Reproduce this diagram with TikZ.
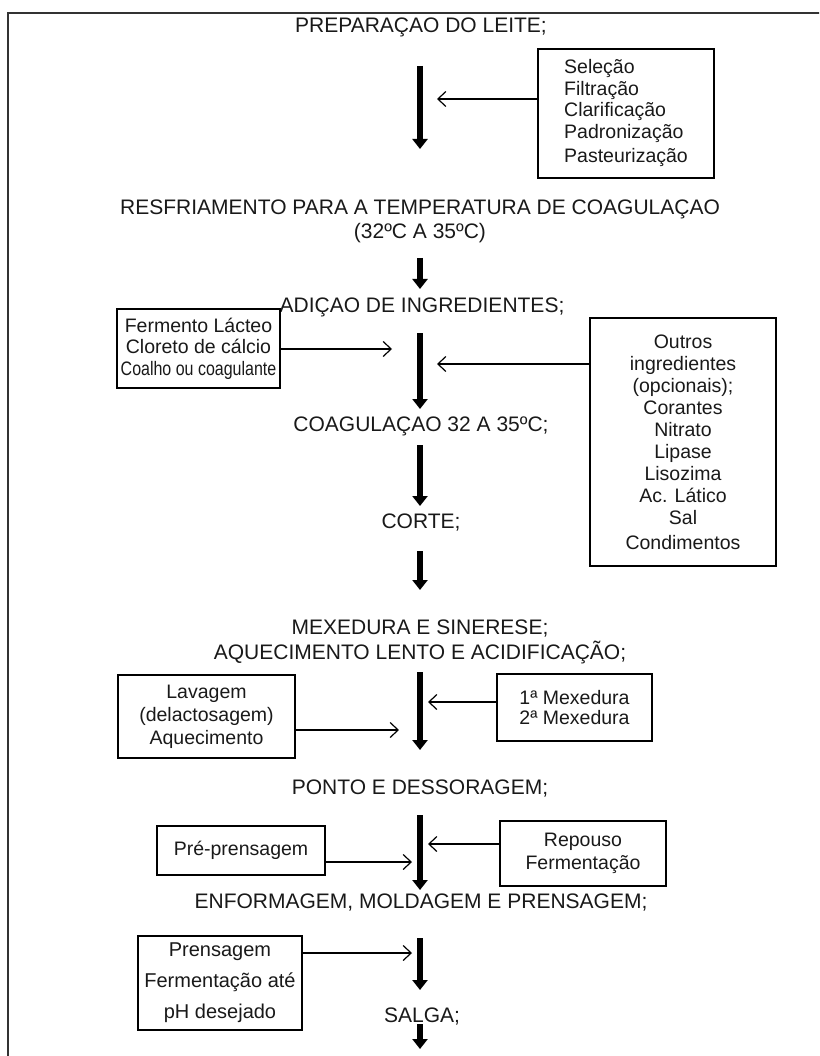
\documentclass[tikz,border=0pt]{standalone}
\usepackage{fontspec}
\setmainfont{Liberation Sans}
\usetikzlibrary{arrows.meta}
\begin{document}
\begin{tikzpicture}[x=1pt,y=-1pt,
  head/.style={font=\fontsize{21}{24}\selectfont, inner sep=0pt, align=center, text=black!90},
  box/.style={draw, line width=1.3pt, font=\fontsize{19.5}{21.5}\selectfont, align=center, inner sep=0pt, text=black!90},
  flow/.style={line width=5.5pt, -{Triangle[width=15pt,length=10pt]}},
  feed/.style={line width=1.2pt, -{Straight Barb[length=8pt,width=15pt]}}]
\useasboundingbox (0,0) rectangle (819,1056);
\begin{scope}
\clip (0,0) rectangle (819,1056);
\draw[line width=2.2pt, color=black!80] (8,13) rectangle (840,1080);
\end{scope}

% headings
\node[head] (t1) at (421,27) {PREPARAÇAO DO LEITE;};
\node[head] (t2a) at (420,209) {RESFRIAMENTO PARA A TEMPERATURA DE COAGULAÇAO};
\node[head] (t2b) at (420,233) {(32ºC A 35ºC)};
\node[head] (t3) at (422,307) {ADIÇAO DE INGREDIENTES;};
\node[head] (t4) at (421,426) {COAGULAÇAO 32 A 35ºC;};
\node[head] (t5) at (421,523) {CORTE;};
\node[head] (t6a) at (420,629) {MEXEDURA E SINERESE;};
\node[head] (t6b) at (420,652) {AQUECIMENTO LENTO E ACIDIFICAÇÃO;};
\node[head] (t7) at (420,789) {PONTO E DESSORAGEM;};
\node[head] (t8) at (421,903) {ENFORMAGEM, MOLDAGEM E PRENSAGEM;};
\node[head] (t9) at (422,1016) {SALGA;};

% side boxes
\node[box, align=left, minimum width=176pt, minimum height=129pt] (b1) at (626,113.5)
  {Seleção\\Filtração\\Clarificação\\Padronização\\[3pt]Pasteurização};
\node[box, minimum width=163pt, minimum height=79pt] (b2) at (198.5,348.5)
  {Fermento Lácteo\\Cloreto de cálcio\\\scalebox{0.82}[1]{Coalho ou coagulante}};
\node[box, font=\fontsize{19.5}{22}\selectfont, minimum width=186pt, minimum height=248pt] (b3) at (683,442)
  {Outros\\ingredientes\\(opcionais);\\Corantes\\Nitrato\\Lipase\\Lisozima\\Ac. Lático\\Sal\\[3pt]Condimentos};
\node[box, font=\fontsize{19.5}{23}\selectfont, minimum width=177pt, minimum height=83pt] (b4) at (206.5,716.5)
  {Lavagem\\(delactosagem)\\Aquecimento};
\node[box, font=\fontsize{19.5}{20.5}\selectfont, minimum width=155pt, minimum height=67pt] (b5) at (574.5,707.5)
  {1ª Mexedura\\2ª Mexedura};
\node[box, minimum width=168pt, minimum height=49pt] (b6) at (241,850.5)
  {Pré-prensagem};
\node[box, font=\fontsize{19.5}{22.5}\selectfont, minimum width=166pt, minimum height=65pt] (b7) at (583,853.5)
  {Repouso\\Fermentação};
\node[box, font=\fontsize{20}{31}\selectfont, minimum width=164pt, minimum height=94pt] (b8) at (220,983)
  {Prensagem\\Fermentação até\\pH desejado};

% main flow arrows
\coordinate (a1s) at (420,66);   \coordinate (a1e) at (420,149);
\coordinate (a2s) at (420,258);  \coordinate (a2e) at (420,289);
\coordinate (a3s) at (420,333);  \coordinate (a3e) at (420,409);
\coordinate (a4s) at (420,445);  \coordinate (a4e) at (420,506);
\coordinate (a5s) at (420,551);  \coordinate (a5e) at (420,590);
\coordinate (a6s) at (420,672);  \coordinate (a6e) at (420,750);
\coordinate (a7s) at (420,815);  \coordinate (a7e) at (420,890);
\coordinate (a8s) at (420,938);  \coordinate (a8e) at (420,990);
\coordinate (a9s) at (420,1024); \coordinate (a9e) at (420,1049);
\foreach \i in {1,...,9} {\draw[flow] (a\i s) -- (a\i e);}

% feeding arrows
\coordinate (f1) at (437,99);
\coordinate (f2) at (392,349);
\coordinate (f3) at (437,364);
\coordinate (f4) at (399,730);
\coordinate (f5) at (428,702);
\coordinate (f6) at (412,862);
\coordinate (f7) at (428,844);
\coordinate (f8) at (412,953);
\draw[feed] (b1.west |- f1) -- (f1);
\draw[feed] (b2.east |- f2) -- (f2);
\draw[feed] (b3.west |- f3) -- (f3);
\draw[feed] (b4.east |- f4) -- (f4);
\draw[feed] (b5.west |- f5) -- (f5);
\draw[feed] (b6.east |- f6) -- (f6);
\draw[feed] (b7.west |- f7) -- (f7);
\draw[feed] (b8.east |- f8) -- (f8);
\end{tikzpicture}
\end{document}
